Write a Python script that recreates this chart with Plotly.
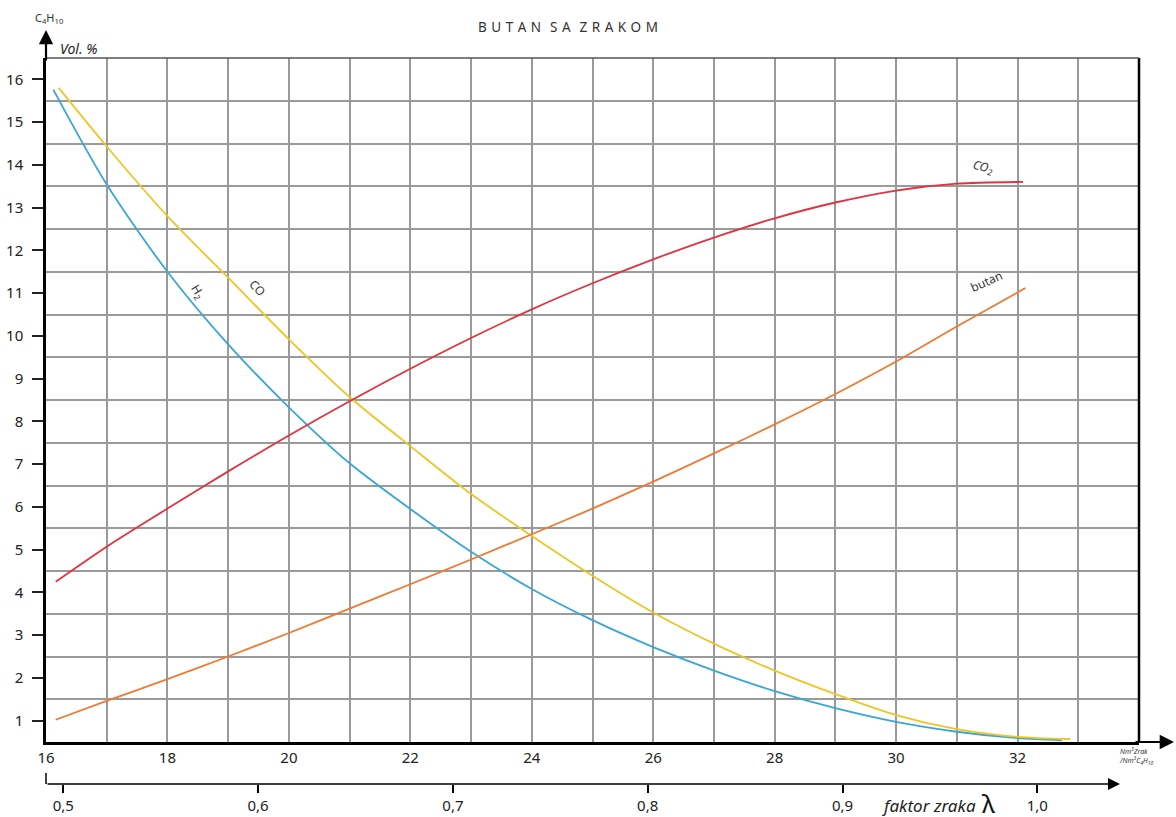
import plotly.graph_objects as go

# ---------------- data ----------------
h2_x = [16.12, 17, 18, 19, 20, 21, 22, 23, 24, 25, 26, 27, 28, 29, 30, 31, 32, 32.73]
h2_y = [15.76, 13.54, 11.5, 9.80, 8.33, 7.02, 5.95, 4.95, 4.08, 3.35, 2.72, 2.17, 1.69, 1.29, 0.97, 0.74, 0.59, 0.54]

co_x = [16.21, 17, 18, 19, 20, 21, 22, 23, 24, 25, 26, 27, 28, 29, 30, 31, 32, 32.87]
co_y = [15.80, 14.43, 12.80, 11.36, 9.92, 8.57, 7.42, 6.30, 5.32, 4.39, 3.53, 2.80, 2.17, 1.62, 1.13, 0.80, 0.62, 0.57]

co2_x = [16.16, 17, 18, 19, 20, 21, 22, 23, 24, 25, 26, 27, 28, 29, 30, 31, 32, 32.09]
co2_y = [4.25, 5.07, 5.96, 6.83, 7.67, 8.47, 9.23, 9.95, 10.62, 11.23, 11.79, 12.30, 12.75, 13.12, 13.40, 13.56, 13.60, 13.60]

butan_x = [16.16, 17, 18, 19, 20, 21, 22, 23, 24, 25, 26, 27, 28, 29, 30, 31, 32.13]
butan_y = [1.02, 1.46, 1.97, 2.50, 3.05, 3.62, 4.19, 4.77, 5.36, 5.96, 6.59, 7.25, 7.93, 8.64, 9.40, 10.22, 11.12]

x_ticks = [16, 18, 20, 22, 24, 26, 28, 30, 32]
x_tick_labels = ["16", "18", "20", "22", "24", "26", "28", "30", "32"]
lam_ticks = [0.5, 0.6, 0.7, 0.8, 0.9, 1.0]
lam_tick_labels = ["0,5", "0,6", "0,7", "0,8", "0,9", "1,0"]

# ---------------- styling ----------------
FONT = "Noto Sans"
GRID = "#9a9a9a"
W, H = 1176, 817
ML, MR, MT, MB = 46, 37, 58, 15
PW = W - ML - MR
PH = H - MT - MB
y_dom0 = (H - MB - 742) / PH
lam_pos = (H - MB - 784) / PH

def py2paper(py):
    return (H - MB - py) / PH

def px2paper(px):
    return (px - ML) / PW

fig = go.Figure()

series = [
    (h2_x, h2_y, "#3aa6d6", "H2"),
    (co_x, co_y, "#efc526", "CO"),
    (co2_x, co2_y, "#e2323f", "CO2"),
    (butan_x, butan_y, "#ef7a32", "butan"),
]
for xs, ys, col, nm in series:
    fig.add_trace(go.Scatter(x=xs, y=ys, mode="lines", name=nm,
                             line=dict(color=col, width=1.8, shape="spline", smoothing=0.8),
                             showlegend=False, hoverinfo="skip"))

# dummy trace to carry the lambda axis
fig.add_trace(go.Scatter(x=lam_ticks, y=[None] * len(lam_ticks), xaxis="x2", yaxis="y",
                         mode="lines", showlegend=False, hoverinfo="skip"))

# lambda axis scale (fitted to the printed tick positions)
lam_px_per_unit = 1948.0
lam_mid_px = 550.3
lam_lo = 0.75 + (ML - lam_mid_px) / lam_px_per_unit
lam_hi = 0.75 + (W - MR - lam_mid_px) / lam_px_per_unit

fig.update_layout(
    width=W, height=H,
    margin=dict(l=ML, r=MR, t=MT, b=MB, autoexpand=False),
    paper_bgcolor="white", plot_bgcolor="white",
    font=dict(family=FONT, color="#222222"),
    xaxis=dict(range=[16, 34], domain=[0, 1], anchor="y",
               tickmode="array", tickvals=x_ticks, ticktext=x_tick_labels,
               ticks="", showgrid=True, gridcolor=GRID, gridwidth=1.5,
               minor=dict(dtick=1, tick0=16, showgrid=True, gridcolor=GRID, gridwidth=1.5, ticks=""),
               showline=True, linecolor="black", linewidth=2.5,
               tickfont=dict(size=15, family=FONT, color="#222"),
               ticklabelstandoff=0, zeroline=False, automargin=False),
    xaxis2=dict(range=[lam_lo, lam_hi], overlaying="x", anchor="free", position=lam_pos,
                side="bottom", tickmode="array", tickvals=lam_ticks, ticktext=lam_tick_labels,
                ticks="outside", ticklen=8, tickwidth=1.5, tickcolor="black",
                showgrid=False, showline=False, zeroline=False,
                tickfont=dict(size=15, family=FONT, color="#222"), automargin=False),
    yaxis=dict(range=[0.5, 16.5], domain=[y_dom0, 1],
               tickmode="linear", tick0=0, dtick=1,
               ticks="outside", ticklen=11, tickwidth=1.5, tickcolor="#222",
               showgrid=False,
               minor=dict(tick0=0.5, dtick=1, showgrid=True, gridcolor=GRID, gridwidth=1.5, ticks=""),
               showline=True, linecolor="black", linewidth=2.5,
               tickfont=dict(size=15, family=FONT, color="#222"),
               ticklabelstandoff=6, zeroline=False, automargin=False),
)

shapes = [
    dict(type="line", xref="paper", yref="paper", x0=1, x1=1, y0=y_dom0, y1=1,
         line=dict(color="black", width=2.5)),
    dict(type="line", xref="paper", yref="paper", x0=0, x1=1, y0=1, y1=1,
         line=dict(color="#555555", width=1.5)),
    dict(type="line", xref="paper", yref="paper", x0=0, x1=0,
         y0=lam_pos, y1=py2paper(773), line=dict(color="black", width=1.5)),
]
fig.update_layout(shapes=shapes)

def txt(px, py, text, size, xanchor="center", color="#222", angle=0, align="center"):
    return dict(x=px2paper(px), y=py2paper(py), xref="paper", yref="paper", text=text,
                showarrow=False, xanchor=xanchor, yanchor="middle", textangle=angle,
                align=align, font=dict(size=size, family=FONT, color=color))

ann = []
ann.append(dict(x=px2paper(1174), y=y_dom0, xref="paper", yref="paper", text="",
                showarrow=True, ax=-40, ay=0, arrowhead=2, arrowsize=1.3, arrowwidth=2.2,
                arrowcolor="black"))
ann.append(dict(x=0, y=py2paper(30), xref="paper", yref="paper", text="",
                showarrow=True, ax=0, ay=32, arrowhead=2, arrowsize=1.3, arrowwidth=2.2,
                arrowcolor="black"))
ann.append(dict(x=px2paper(1120), y=lam_pos, xref="paper", yref="paper", text="",
                showarrow=True, ax=-(1120 - 46), ay=0, arrowhead=2, arrowsize=1.6,
                arrowwidth=1.5, arrowcolor="black"))

sp = "\u2004"
title = sp.join("BUTAN") + "\u2002\u2009" + sp.join("SA") + "\u2002\u2009" + sp.join("ZRAKOM")
ann.append(txt(568, 27, title, 13.5, color="#333"))
ann.append(txt(49, 18, "C<sub>4</sub>H<sub>10</sub>", 11, color="#333"))
ann.append(txt(58, 48, "<i>Vol. %</i>", 14, xanchor="left"))
ann.append(txt(1117, 756, "<i>Nm<sup>3</sup>Zrak</i><br><i>/Nm<sup>3</sup>C<sub>4</sub>H<sub>10</sub></i>",
               7, xanchor="left", color="#333", align="left"))
ann.append(txt(978, 805, "<i>faktor zraka</i>", 17, xanchor="right"))
ann.append(txt(988, 803, "λ", 25, color="#111"))

def dtxt(x, y, text, angle):
    return dict(x=x, y=y, xref="x", yref="y", text=text, showarrow=False, textangle=angle,
                xanchor="center", yanchor="middle",
                font=dict(size=12, family=FONT, color="#333"))

ann.append(dtxt(16 + (198 - 46) / 60.72, 15.5 - (292 - 101) / 42.75, "H<sub>2</sub>", 58))
ann.append(dtxt(16 + (257 - 46) / 60.72, 15.5 - (288 - 101) / 42.75, "CO", 48))
ann.append(dtxt(16 + (983 - 46) / 60.72, 15.5 - (167 - 101) / 42.75, "<i>CO<sub>2</sub></i>", 14))
ann.append(dtxt(16 + (986 - 46) / 60.72, 15.5 - (282 - 101) / 42.75, "butan", -24))

fig.update_layout(annotations=ann)
fig.write_html("out.html", config={"displayModeBar": False},
               post_script="document.body.style.margin='0px';document.body.style.overflow='hidden';")
